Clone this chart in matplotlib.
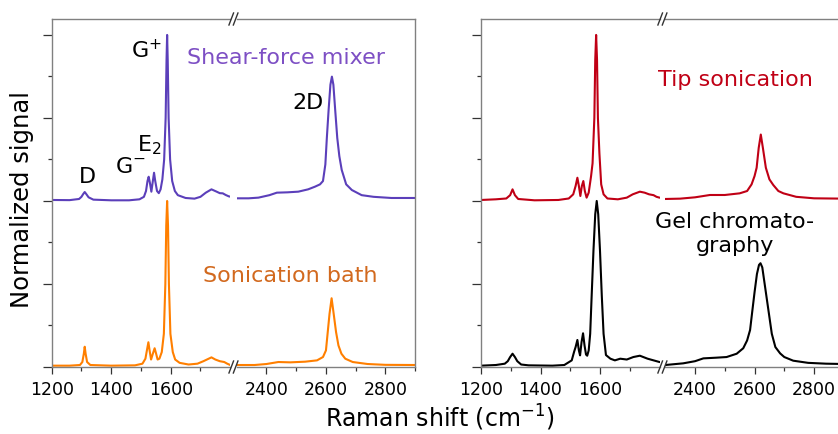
import matplotlib
matplotlib.use("Agg")
import matplotlib.pyplot as plt
from matplotlib.lines import Line2D

# --- Raman spektrumları (cm^-1, normalize sinyal) ---
# üst eğriler 1 birim yukarı kaydırılmış olarak okundu

SHEAR_X = [1200, 1260, 1292, 1300, 1306, 1311, 1316, 1324, 1340, 1400, 1460, 1495,
           1510, 1517, 1522, 1526, 1530, 1535, 1540, 1544, 1548, 1554, 1560, 1566,
           1572, 1578, 1583, 1586, 1588, 1590, 1593, 1598, 1605, 1614, 1624, 1650,
           1680, 1700, 1718, 1737, 1752, 1765, 1775, 1785, 1795, 1800,
           2300, 2340, 2373, 2410, 2435, 2470, 2507, 2540, 2563, 2580, 2590, 2598,
           2603, 2609, 2615, 2620, 2625, 2631, 2638, 2645, 2653, 2668, 2687, 2720,
           2760, 2820, 2900]
SHEAR_Y = [1.006, 1.005, 1.012, 1.025, 1.042, 1.054, 1.042, 1.022, 1.008, 1.004, 1.004, 1.010,
           1.025, 1.060, 1.120, 1.146, 1.110, 1.056, 1.120, 1.170, 1.120, 1.060, 1.047, 1.070,
           1.130, 1.250, 1.500, 1.850, 2.000, 1.850, 1.500, 1.250, 1.120, 1.060, 1.035, 1.018,
           1.014, 1.025, 1.050, 1.070, 1.058, 1.047, 1.046, 1.036, 1.028, 1.026,
           1.016, 1.016, 1.020, 1.035, 1.050, 1.052, 1.056, 1.070, 1.086, 1.100, 1.120, 1.220,
           1.380, 1.550, 1.700, 1.749, 1.700, 1.550, 1.380, 1.270, 1.187, 1.100, 1.066, 1.035,
           1.025, 1.018, 1.018]

BATH_X = [1200, 1260, 1295, 1303, 1308, 1311, 1314, 1319, 1330, 1400, 1480, 1505,
          1515, 1521, 1525, 1529, 1534, 1540, 1546, 1551, 1556, 1562, 1570, 1577,
          1582, 1585, 1588, 1591, 1594, 1599, 1607, 1615, 1630, 1660, 1690, 1710,
          1737, 1750, 1765, 1780, 1790, 1800,
          2300, 2360, 2400, 2440, 2480, 2530, 2570, 2590, 2600, 2606, 2612, 2619,
          2626, 2634, 2642, 2652, 2665, 2690, 2740, 2800, 2900]
BATH_Y = [0.008, 0.008, 0.012, 0.030, 0.080, 0.122, 0.080, 0.030, 0.012, 0.008, 0.010, 0.020,
          0.050, 0.110, 0.149, 0.100, 0.045, 0.080, 0.113, 0.080, 0.045, 0.050, 0.090, 0.200,
          0.500, 0.850, 1.000, 0.850, 0.500, 0.200, 0.090, 0.045, 0.025, 0.015, 0.020, 0.035,
          0.058, 0.045, 0.035, 0.030, 0.020, 0.012,
          0.012, 0.012, 0.018, 0.030, 0.028, 0.032, 0.040, 0.060, 0.100, 0.210, 0.320, 0.414,
          0.320, 0.210, 0.130, 0.080, 0.050, 0.030, 0.018, 0.013, 0.012]

TIP_X = [1200, 1250, 1285, 1298, 1306, 1314, 1325, 1380, 1460, 1495, 1510, 1518,
         1524, 1529, 1534, 1539, 1544, 1549, 1555, 1562, 1570, 1575, 1581, 1584,
         1587, 1590, 1593, 1598, 1604, 1612, 1625, 1660, 1690, 1710, 1734, 1750,
         1765, 1780, 1790, 1800,
         2300, 2350, 2400, 2450, 2500, 2550, 2575, 2590, 2600, 2607, 2614, 2621,
         2628, 2638, 2650, 2663, 2680, 2697, 2740, 2800, 2900]
TIP_Y = [1.006, 1.010, 1.015, 1.035, 1.070, 1.035, 1.012, 1.004, 1.006, 1.015, 1.040, 1.090,
         1.140, 1.090, 1.030, 1.090, 1.120, 1.060, 1.020, 1.050, 1.150, 1.227, 1.500, 1.850,
         2.000, 1.850, 1.500, 1.287, 1.100, 1.040, 1.015, 1.010, 1.020, 1.040, 1.056, 1.050,
         1.040, 1.035, 1.025, 1.020,
         1.012, 1.014, 1.022, 1.036, 1.036, 1.046, 1.060, 1.100, 1.150, 1.200, 1.320, 1.400,
         1.320, 1.200, 1.130, 1.096, 1.060, 1.046, 1.025, 1.016, 1.014]

GEL_X = [1200, 1250, 1280, 1290, 1298, 1306, 1314, 1322, 1335, 1360, 1440, 1480,
         1505, 1513, 1518, 1524, 1529, 1533, 1538, 1543, 1548, 1553, 1557, 1562,
         1567, 1572, 1578, 1584, 1589, 1594, 1600, 1606, 1612, 1620, 1635, 1650,
         1668, 1690, 1712, 1734, 1760, 1780, 1800,
         2300, 2360, 2400, 2428, 2470, 2506, 2540, 2562, 2575, 2585, 2592, 2600,
         2608, 2615, 2620, 2626, 2634, 2642, 2650, 2658, 2670, 2686, 2700, 2730,
         2780, 2840, 2900]
GEL_Y = [0.008, 0.012, 0.020, 0.035, 0.060, 0.080, 0.060, 0.035, 0.015, 0.010, 0.008, 0.012,
         0.040, 0.092, 0.120, 0.163, 0.100, 0.070, 0.150, 0.203, 0.130, 0.075, 0.068, 0.100,
         0.200, 0.430, 0.700, 0.920, 1.000, 0.920, 0.700, 0.430, 0.200, 0.072, 0.050, 0.040,
         0.050, 0.045, 0.060, 0.068, 0.050, 0.040, 0.030,
         0.012, 0.022, 0.035, 0.052, 0.056, 0.060, 0.080, 0.113, 0.160, 0.223, 0.330, 0.450,
         0.560, 0.615, 0.625, 0.600, 0.500, 0.400, 0.300, 0.200, 0.120, 0.082, 0.060, 0.038,
         0.025, 0.020, 0.018]

# --- stil ---
PURPLE = "#5b3fba"
PURPLE_TXT = "#7d4fc4"
ORANGE = "#ff7f00"
ORANGE_TXT = "#d2691e"
RED = "#c00015"
GRAY = "#808080"

W, H = 838, 434
FS_TXT = 16


def fx(px):
    return px / W


def fy(py):
    # piksel (üstten) -> figür oranı (alttan)
    return 1 - py / H


def setup_pair(ax1, ax2):
    for ax in (ax1, ax2):
        ax.set_ylim(0, 2.096)
        for s in ax.spines.values():
            s.set_color(GRAY)
            s.set_linewidth(1.0)
        ax.tick_params(which="both", direction="out", color="#333333", labelsize=12.5, pad=5)
        ax.tick_params(which="major", length=5, width=0.9)
        ax.tick_params(which="minor", length=3, width=0.9)
        ax.tick_params(axis="y", left=False, right=False, labelleft=False)
    ax1.set_xlim(1200, 1800)
    ax2.set_xlim(2300, 2900)
    ax1.spines["right"].set_visible(False)
    ax2.spines["left"].set_visible(False)
    ax1.set_xticks([1200, 1400, 1600])
    ax1.set_xticks([1300, 1500, 1700], minor=True)
    ax2.set_xticks([2400, 2600, 2800])
    ax2.set_xticks([2500, 2700, 2900], minor=True)
    ax1.set_yticks([0, 0.5, 1, 1.5, 2])
    ax1.set_yticks([0.25, 0.75, 1.25, 1.75], minor=True)
    ax1.tick_params(axis="y", which="major", left=True, length=6.5)
    ax1.tick_params(axis="y", which="minor", left=True, length=3)


def break_marks(fig, ax1, ax2):
    # "//" kırılma işaretleri (üst ve alt eksende)
    p1 = ax1.get_position()
    p2 = ax2.get_position()
    cx = (p1.x1 + p2.x0) / 2 * W
    for yfrac in (p1.y0, p1.y1):
        cy = yfrac * H
        for dx in (-2.2, 2.2):
            x = cx + dx
            fig.add_artist(Line2D([(x - 2.3) / W, (x + 2.3) / W],
                                  [(cy - 6) / H, (cy + 6) / H],
                                  transform=fig.transFigure, color="#333333", lw=1.0))


def main():
    plt.rcParams["font.family"] = ["DejaVu Sans"]
    plt.rcParams["mathtext.default"] = "regular"
    fig = plt.figure(figsize=(W / 100, H / 100), dpi=100)

    bottom = fy(367)
    height = fy(19) - bottom
    seg_w = fx(178.5)
    axL1 = fig.add_axes([fx(51.7), bottom, seg_w, height])
    axL2 = fig.add_axes([fx(236.7), bottom, seg_w, height])
    axR1 = fig.add_axes([fx(481.0), bottom, seg_w, height])
    axR2 = fig.add_axes([fx(665.3), bottom, seg_w, height])

    for ax in (axL1, axL2):
        ax.plot(BATH_X, BATH_Y, color=ORANGE, lw=1.5)
        ax.plot(SHEAR_X, SHEAR_Y, color=PURPLE, lw=1.5)
    for ax in (axR1, axR2):
        ax.plot(GEL_X, GEL_Y, color="black", lw=1.5)
        ax.plot(TIP_X, TIP_Y, color=RED, lw=1.5)

    setup_pair(axL1, axL2)
    setup_pair(axR1, axR2)
    break_marks(fig, axL1, axL2)
    break_marks(fig, axR1, axR2)

    # etiketler
    txt = dict(ha="center", va="center", fontsize=FS_TXT)
    fig.text(fx(146), fy(50), "G$^{+}$", color="black", **txt)
    fig.text(fx(149), fy(145), "E$_{2}$", color="black", **txt)
    fig.text(fx(130), fy(167), "G$^{-}$", color="black", **txt)
    fig.text(fx(87), fy(177), "D", color="black", **txt)
    fig.text(fx(308), fy(103), "2D", color="black", **txt)
    fig.text(fx(286), fy(58), "Shear-force mixer", color=PURPLE_TXT, **txt)
    fig.text(fx(290), fy(276), "Sonication bath", color=ORANGE_TXT, **txt)
    fig.text(fx(735), fy(80), "Tip sonication", color=RED, **txt)
    fig.text(fx(735), fy(234), "Gel chromato-\ngraphy", color="black",
             multialignment="center", linespacing=1.3, **txt)

    fig.text(fx(440), fy(418), "Raman shift (cm$^{-1}$)", ha="center", va="center",
             fontsize=17)
    fig.text(fx(22), fy(200), "Normalized signal", ha="center", va="center",
             fontsize=17.5, rotation=90)

    fig.savefig("out.png", dpi=100)


if __name__ == "__main__":
    main()
